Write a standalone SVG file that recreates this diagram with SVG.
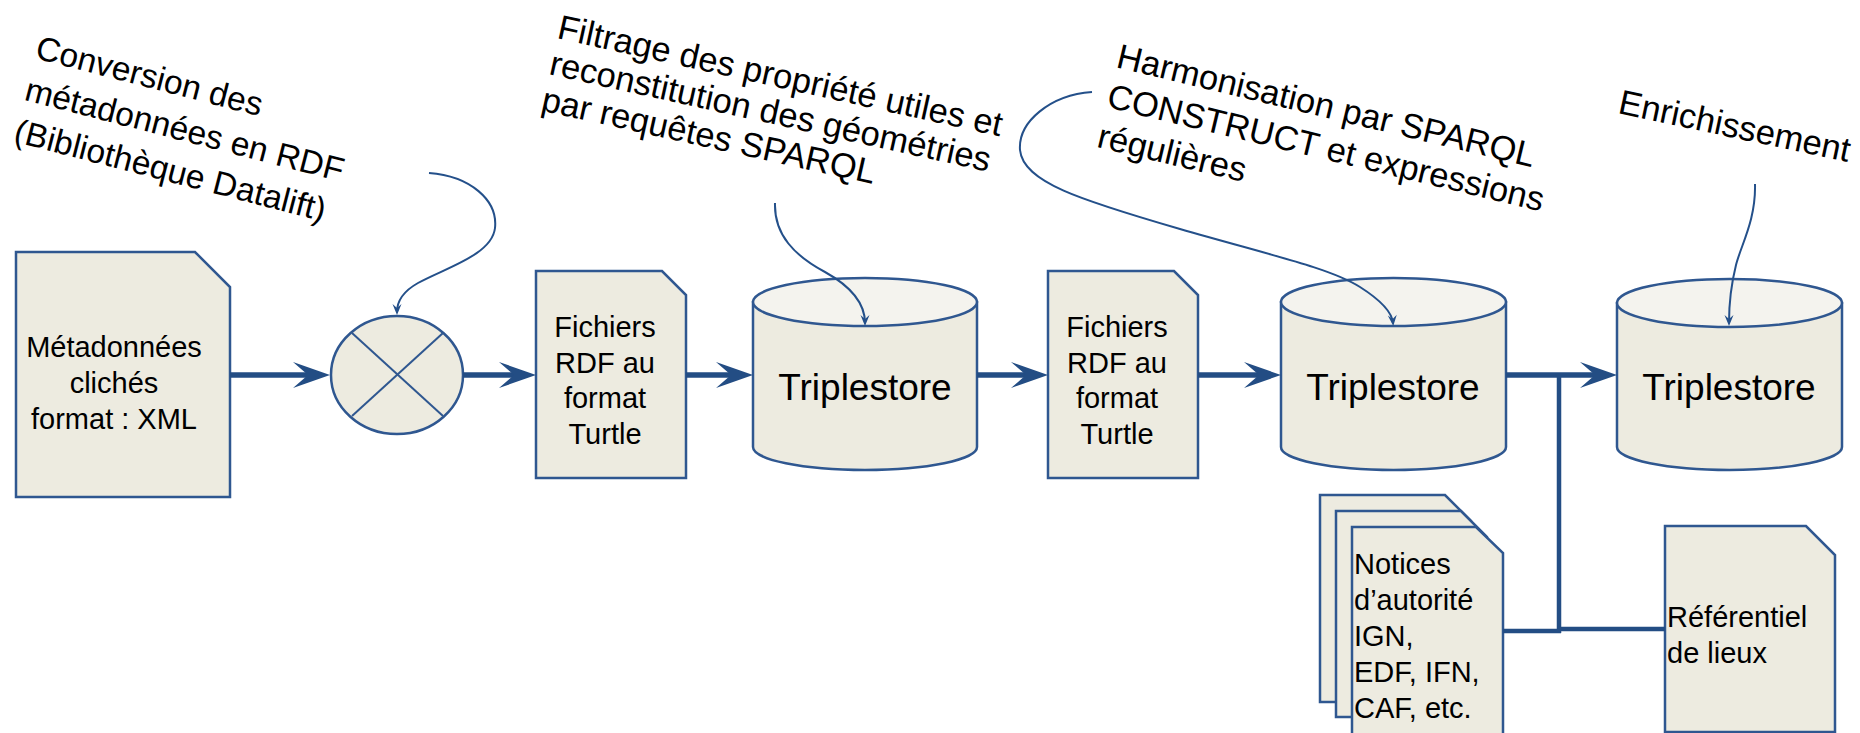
<svg xmlns="http://www.w3.org/2000/svg" width="1860" height="733" viewBox="0 0 1860 733">
<style>
  .shape { fill: #EDEBE0; stroke: #2F5790; stroke-width: 2.5; }
  .top { fill: #F4F3EE; stroke: #2F5790; stroke-width: 2.5; }
  .thin { fill: none; stroke: #2F5790; stroke-width: 2; }
  .main { fill: none; stroke: #234D84; stroke-width: 5.5; }
  .branch { fill: none; stroke: #234D84; stroke-width: 4.5; }
  .curve { fill: none; stroke: #24508A; stroke-width: 2; }
  text { font-family: "Liberation Sans", Arial, sans-serif; fill: #000; }
  .lbl { font-size: 34px; }
  .box { font-size: 29px; }
  .big { font-size: 37px; }
</style>
<defs>
  <marker id="ah" markerUnits="userSpaceOnUse" viewBox="-38 -14 40 28" markerWidth="40" markerHeight="28" refX="-20" refY="0" orient="auto">
    <path d="M0,0 L-37,-13 L-22,0 L-37,13 Z" fill="#234D84"/>
  </marker>
  <marker id="sh" markerUnits="userSpaceOnUse" viewBox="-12 -6 14 12" markerWidth="14" markerHeight="12" refX="-3" refY="0" orient="auto">
    <path d="M0,0 L-11,-4.5 L-7,0 L-11,4.5 Z" fill="#24508A"/>
  </marker>
</defs>

<g id="labels">
  <text class="lbl" style="font-size:33.5px" transform="translate(34,58) rotate(14.5)"><tspan x="0" y="0">Conversion des</tspan><tspan x="0" y="43">métadonnées en RDF</tspan><tspan x="0" y="86">(Bibliothèque Datalift)</tspan></text>
  <text class="lbl" style="font-size:34.5px" transform="translate(556,38) rotate(12.5)"><tspan x="0" y="0">Filtrage des propriété utiles et</tspan><tspan x="0" y="37">reconstitution des géométries</tspan><tspan x="0" y="74">par requêtes SPARQL</tspan></text>
  <text class="lbl" style="font-size:34.5px" transform="translate(1115,67) rotate(13.5)"><tspan x="0" y="0">Harmonisation par SPARQL</tspan><tspan x="0" y="41">CONSTRUCT et expressions</tspan><tspan x="0" y="82">régulières</tspan></text>
  <text class="lbl" style="font-size:34.5px" transform="translate(1617,113) rotate(12)">Enrichissement</text>
</g>

<g id="doc-xml">
  <path class="shape" d="M16,252 L195,252 L230,287 L230,497 L16,497 Z"/>
  <text class="box" text-anchor="middle"><tspan x="114" y="357">Métadonnées</tspan><tspan x="114" y="393">clichés</tspan><tspan x="114" y="429">format : XML</tspan></text>
</g>

<g id="conversion">
  <ellipse class="shape" cx="397" cy="375" rx="66" ry="59"/>
  <line class="thin" x1="352" y1="333" x2="443" y2="416"/>
  <line class="thin" x1="443" y1="333" x2="352" y2="416"/>
</g>

<g id="doc-rdf1">
  <path class="shape" d="M536,271 L662,271 L686,295 L686,478 L536,478 Z"/>
  <text class="box" text-anchor="middle"><tspan x="605" y="337">Fichiers</tspan><tspan x="605" y="373">RDF au</tspan><tspan x="605" y="408">format</tspan><tspan x="605" y="444">Turtle</tspan></text>
</g>

<g id="triplestore1">
  <path class="shape" d="M753,302 L753,447 A112,23 0 0 0 977,447 L977,302 Z"/>
  <ellipse class="top" cx="865" cy="302" rx="112" ry="24"/>
  <text class="big" x="865" y="400" text-anchor="middle">Triplestore</text>
</g>

<g id="doc-rdf2">
  <path class="shape" d="M1048,271 L1174,271 L1198,295 L1198,478 L1048,478 Z"/>
  <text class="box" text-anchor="middle"><tspan x="1117" y="337">Fichiers</tspan><tspan x="1117" y="373">RDF au</tspan><tspan x="1117" y="408">format</tspan><tspan x="1117" y="444">Turtle</tspan></text>
</g>

<g id="triplestore2">
  <path class="shape" d="M1281,302 L1281,447 A112.5,23 0 0 0 1506,447 L1506,302 Z"/>
  <ellipse class="top" cx="1393.5" cy="302" rx="112.5" ry="24"/>
  <text class="big" x="1393" y="400" text-anchor="middle">Triplestore</text>
</g>

<g id="triplestore3">
  <path class="shape" d="M1617,303 L1617,447 A112.5,23 0 0 0 1842,447 L1842,303 Z"/>
  <ellipse class="top" cx="1729.5" cy="303" rx="112.5" ry="24"/>
  <text class="big" x="1729" y="400" text-anchor="middle">Triplestore</text>
</g>

<g id="notices">
  <path class="shape" d="M1320,495 L1445,495 L1471,521 L1471,702 L1320,702 Z"/>
  <path class="shape" d="M1336,511 L1461,511 L1487,537 L1487,717 L1336,717 Z"/>
  <path class="shape" d="M1352,527 L1476,527 L1503,553 L1503,736 L1352,736 Z"/>
  <text class="box"><tspan x="1354" y="574">Notices</tspan><tspan x="1354" y="610">d’autorité</tspan><tspan x="1354" y="646">IGN,</tspan><tspan x="1354" y="682">EDF, IFN,</tspan><tspan x="1354" y="718">CAF, etc.</tspan></text>
</g>

<g id="referentiel">
  <path class="shape" d="M1665,526 L1806,526 L1835,555 L1835,732 L1665,732 Z"/>
  <text class="box"><tspan x="1667" y="627">Référentiel</tspan><tspan x="1667" y="663">de lieux</tspan></text>
</g>

<g id="connectors">
  <line class="main" x1="230" y1="375" x2="310" y2="375" marker-end="url(#ah)"/>
  <line class="main" x1="463" y1="375" x2="516" y2="375" marker-end="url(#ah)"/>
  <line class="main" x1="686" y1="375" x2="733" y2="375" marker-end="url(#ah)"/>
  <line class="main" x1="977" y1="375" x2="1028" y2="375" marker-end="url(#ah)"/>
  <line class="main" x1="1198" y1="375" x2="1261" y2="375" marker-end="url(#ah)"/>
  <line class="main" x1="1506" y1="375" x2="1597" y2="375" marker-end="url(#ah)"/>
  <line class="branch" x1="1559" y1="375" x2="1559" y2="633"/>
  <line class="branch" x1="1503" y1="631" x2="1561" y2="631"/>
  <line class="branch" x1="1559" y1="629" x2="1665" y2="629"/>
  <path class="curve" d="M429,173 C470,176 498,200 495,228 C492,255 445,268 418,283 C402,292 397,302 397,312" marker-end="url(#sh)"/>
  <path class="curve" d="M775,203 C774,235 795,256 825,272 C852,287 865,303 865,323" marker-end="url(#sh)"/>
  <path class="curve" d="M1092,92 C1050,95 1018,122 1020,150 C1023,182 1080,200 1180,229 C1270,255 1330,268 1360,287 C1382,301 1392,312 1393,323" marker-end="url(#sh)"/>
  <path class="curve" d="M1755,184 C1756,220 1741,245 1736,265 C1731,285 1729,305 1729,323" marker-end="url(#sh)"/>
</g>
</svg>
